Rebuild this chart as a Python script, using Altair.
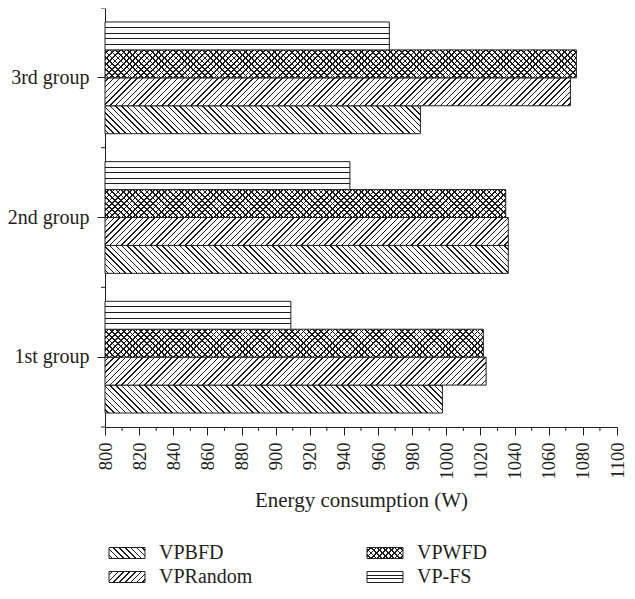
import math
import altair as alt
import pandas as pd

# ---- data ----
groups = ["1st group", "2nd group", "3rd group"]
series = ["VPBFD", "VPRandom", "VPWFD", "VP-FS"]
vpbfd = [997.7, 1036.3, 984.8]
vprandom = [1023.3, 1036.3, 1072.7]
vpwfd = [1021.7, 1034.8, 1076.2]
vpfs = [908.9, 943.5, 966.6]
x_ticks = list(range(800, 1101, 20))
x_minor = list(range(810, 1100, 20))
legend_cols = [0, 0, 1, 1]
legend_rows = [0, 1, 0, 1]

values = {"VPBFD": vpbfd, "VPRandom": vprandom, "VPWFD": vpwfd, "VP-FS": vpfs}
rows = []
for s in series:
    for g, v in zip(groups, values[s]):
        rows.append({"group": g, "series": s, "value": v})
df = pd.DataFrame(rows)
leg_df = pd.DataFrame({"series": series, "col": legend_cols, "row": legend_rows})
minor_df = pd.DataFrame({"value": x_minor})
bound_df = pd.DataFrame({"group": groups})

# ---- layout / style ----
W, H = 512, 419
LEFT = 97
X0, X1 = 800, 1100
FONT = "Liberation Serif"
INK = "#231f20"
BAR_H = H / 3 / 5


def diag(w, h, back, period=4.1, lw=1.0, bg="white", fg="#1a1a1a"):
    L = (w + h) / math.sqrt(2)
    k = (w + h) / (w * w + h * h)
    if back:
        x1, y1, x2, y2 = 0, 1, k * w, 1 - k * h
    else:
        x1, y1, x2, y2 = 0, 0, k * w, k * h
    stops = [{"offset": 0, "color": bg}]
    n = int(L / period) + 2
    for i in range(n):
        s = (period * (i + 0.5)) / L
        e = s + lw / L
        if s >= 1:
            break
        e = min(e, 1)
        stops += [{"offset": s, "color": bg}, {"offset": s, "color": fg},
                  {"offset": e, "color": fg}, {"offset": e, "color": bg}]
    stops.append({"offset": 1, "color": bg})
    return {"gradient": "linear", "x1": x1, "y1": y1, "x2": x2, "y2": y2, "stops": stops}


def horiz(h, n, lw=1.0, bg="white", fg="#1a1a1a"):
    stops = [{"offset": 0, "color": bg}]
    for i in range(1, n):
        s = i / n - lw / h / 2
        e = i / n + lw / h / 2
        stops += [{"offset": s, "color": bg}, {"offset": s, "color": fg},
                  {"offset": e, "color": fg}, {"offset": e, "color": bg}]
    stops.append({"offset": 1, "color": bg})
    return {"gradient": "linear", "x1": 0, "y1": 0, "x2": 0, "y2": 1, "stops": stops}


x_axis = alt.Axis(values=x_ticks, format="d", labelAngle=270, title="Energy consumption (W)",
                  tickSize=8, labelPadding=7, titlePadding=10, grid=False,
                  labelFont=FONT, titleFont=FONT, labelFontSize=18.5, titleFontSize=21,
                  titleFontWeight="normal", labelColor=INK, titleColor=INK,
                  domainColor=INK, tickColor=INK, labelFlush=False, labelOverlap=False)
y_axis = alt.Axis(title=None, tickSize=8, labelPadding=8, grid=False,
                  labelFont=FONT, labelFontSize=20, labelColor=INK,
                  domainColor=INK, tickColor=INK)
x_scale = alt.Scale(domain=[X0, X1], nice=False, zero=False)
y_scale = alt.Scale(domain=["3rd group", "2nd group", "1st group"], paddingInner=0, paddingOuter=0)
yo_scale = alt.Scale(domain=["VP-FS", "VPWFD", "VPRandom", "VPBFD"], paddingInner=0, paddingOuter=0.5)


def bar_enc(ch):
    return ch.encode(
        x=alt.X("value:Q", scale=x_scale, axis=x_axis),
        x2=alt.datum(X0),
        y=alt.Y("group:N", scale=y_scale, axis=y_axis),
        yOffset=alt.YOffset("series:N", scale=yo_scale),
    )


base = alt.Chart(df)
layers = []
for s in series:
    for g, v in zip(groups, values[s]):
        bw = (v - X0) / (X1 - X0) * W
        flt = f"datum.series === '{s}' && datum.group === '{g}'"
        if s == "VPBFD":
            fills = [(diag(bw, BAR_H, True), True)]
        elif s == "VPRandom":
            fills = [(diag(bw, BAR_H, False), True)]
        elif s == "VPWFD":
            fills = [(diag(bw, BAR_H, True, lw=1.2), True),
                     (diag(bw, BAR_H, False, lw=1.2, bg="rgba(255,255,255,0)"), False)]
        else:
            fills = [(horiz(BAR_H, 5), True)]
        for f, stroked in fills:
            if stroked:
                m = base.mark_bar(fill=f, stroke=INK, strokeWidth=1)
            else:
                m = base.mark_bar(fill=f, strokeWidth=0)
            layers.append(bar_enc(m.transform_filter(flt)))

minor = alt.Chart(minor_df).mark_rule(color=INK, strokeWidth=1).encode(
    x=alt.X("value:Q", scale=x_scale, axis=x_axis),
    y=alt.value(H), y2=alt.value(H + 4))
bounds_top = alt.Chart(bound_df).mark_rule(color=INK, strokeWidth=1).encode(
    y=alt.Y("group:N", scale=y_scale, axis=y_axis, bandPosition=0),
    x=alt.value(0), x2=alt.value(-4))
bounds_bot = alt.Chart(bound_df).transform_filter("datum.group === '1st group'").mark_rule(
    color=INK, strokeWidth=1).encode(
    y=alt.Y("group:N", scale=y_scale, axis=y_axis, bandPosition=1),
    x=alt.value(0), x2=alt.value(-4))

main = alt.layer(*layers, minor, bounds_top, bounds_bot)

# ---- legend drawn through its own band scales ----
SYM_W, SYM_H = 36, 11
lx = alt.X("col:O", axis=None, scale=alt.Scale(domain=[0, 1], range=[4, 298],
                                                paddingInner=1 - 36 / 258, paddingOuter=0))
ly = alt.Y("row:O", axis=None, scale=alt.Scale(domain=[0, 1], range=[539.5, 574.5],
                                                paddingInner=1 - 11 / 24, paddingOuter=0))
lbase = alt.Chart(leg_df)
leg_layers = []
leg_fills = {
    "VPBFD": [(diag(SYM_W, SYM_H, True), True)],
    "VPRandom": [(diag(SYM_W, SYM_H, False), True)],
    "VPWFD": [(diag(SYM_W, SYM_H, True, lw=1.2), True),
              (diag(SYM_W, SYM_H, False, lw=1.2, bg="rgba(255,255,255,0)"), False)],
    "VP-FS": [(horiz(SYM_H, 3), True)],
}
for s in series:
    for f, stroked in leg_fills[s]:
        if stroked:
            m = lbase.mark_rect(fill=f, stroke=INK, strokeWidth=1)
        else:
            m = lbase.mark_rect(fill=f, strokeWidth=0)
        leg_layers.append(m.transform_filter(f"datum.series === '{s}'").encode(x=lx, y=ly))
leg_text = lbase.mark_text(align="left", baseline="middle", dx=32, font=FONT,
                           fontSize=20, color=INK).encode(x=lx, y=ly, text="series:N")
legend = alt.layer(*leg_layers, leg_text)

chart = alt.layer(main, legend).resolve_scale(x="independent", y="independent").properties(
    width=W, height=H,
    autosize=alt.AutoSizeParams(type="none"),
    padding={"left": LEFT, "top": 0, "right": 10, "bottom": 164},
    background="white",
).configure_view(stroke=None)

chart.save("out.html", embed_options={"renderer": "svg", "actions": False})
